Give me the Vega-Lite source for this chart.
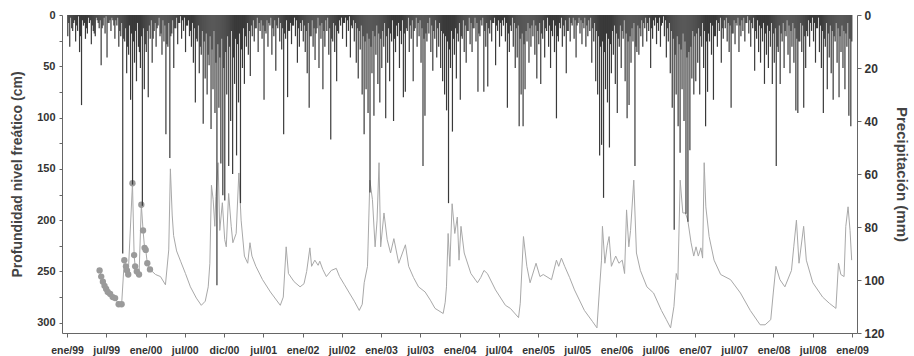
{
  "$schema": "https://vega.github.io/schema/vega-lite/v6.json",
  "width": 795,
  "height": 318,
  "autosize": {"type": "none"},
  "padding": {"left": 62, "top": 15, "right": 57, "bottom": 23},
  "background": "white",
  "config": {
    "font": "Liberation Sans",
    "view": {"stroke": null},
    "axis": {"grid": false, "labelFontWeight": "bold", "titleFontWeight": "bold", "labelColor": "#333", "titleColor": "#444", "domainColor": "#666", "tickColor": "#666"},
    "axisX": {"labelOverlap": false, "labelBound": false, "labelFlush": false}
  },
  "datasets": {
    "lluvia": [
{"t":1999.01,"p":8},{"t":1999.035,"p":12},{"t":1999.06,"p":5},{"t":1999.085,"p":3},{"t":1999.11,"p":10},{"t":1999.135,"p":6},{"t":1999.16,"p":14},{"t":1999.185,"p":34},{"t":1999.21,"p":4},{"t":1999.235,"p":9},{"t":1999.26,"p":7},{"t":1999.285,"p":3},{"t":1999.31,"p":11},{"t":1999.335,"p":6},{"t":1999.36,"p":8},{"t":1999.385,"p":2},{"t":1999.41,"p":5},{"t":1999.435,"p":19},{"t":1999.46,"p":4},{"t":1999.485,"p":7},{"t":1999.51,"p":16},{"t":1999.535,"p":3},{"t":1999.56,"p":6},{"t":1999.585,"p":2},{"t":1999.61,"p":9},{"t":1999.635,"p":4},{"t":1999.66,"p":12},{"t":1999.685,"p":8},{"t":1999.71,"p":90},{"t":1999.735,"p":10},{"t":1999.76,"p":22},{"t":1999.785,"p":15},{"t":1999.81,"p":32},{"t":1999.835,"p":64},{"t":1999.86,"p":18},{"t":1999.885,"p":25},{"t":1999.91,"p":12},{"t":1999.935,"p":20},{"t":1999.96,"p":72},{"t":1999.985,"p":28},
{"t":2000.01,"p":14},{"t":2000.035,"p":31},{"t":2000.06,"p":9},{"t":2000.085,"p":18},{"t":2000.11,"p":6},{"t":2000.135,"p":12},{"t":2000.16,"p":4},{"t":2000.185,"p":8},{"t":2000.21,"p":15},{"t":2000.235,"p":10},{"t":2000.26,"p":45},{"t":2000.285,"p":12},{"t":2000.31,"p":54},{"t":2000.335,"p":7},{"t":2000.36,"p":20},{"t":2000.385,"p":5},{"t":2000.41,"p":11},{"t":2000.435,"p":3},{"t":2000.46,"p":9},{"t":2000.485,"p":6},{"t":2000.51,"p":14},{"t":2000.535,"p":4},{"t":2000.56,"p":8},{"t":2000.585,"p":12},{"t":2000.61,"p":18},{"t":2000.635,"p":33},{"t":2000.66,"p":10},{"t":2000.685,"p":22},{"t":2000.71,"p":15},{"t":2000.735,"p":41},{"t":2000.76,"p":24},{"t":2000.785,"p":30},{"t":2000.81,"p":19},{"t":2000.835,"p":43},{"t":2000.86,"p":28},{"t":2000.885,"p":37},{"t":2000.91,"p":102},{"t":2000.935,"p":35},{"t":2000.96,"p":56},{"t":2000.985,"p":68},
{"t":2001.01,"p":70},{"t":2001.035,"p":30},{"t":2001.06,"p":57},{"t":2001.085,"p":40},{"t":2001.11,"p":60},{"t":2001.135,"p":26},{"t":2001.16,"p":53},{"t":2001.185,"p":33},{"t":2001.21,"p":71},{"t":2001.235,"p":20},{"t":2001.26,"p":26},{"t":2001.285,"p":12},{"t":2001.31,"p":15},{"t":2001.335,"p":23},{"t":2001.36,"p":8},{"t":2001.385,"p":10},{"t":2001.41,"p":5},{"t":2001.435,"p":14},{"t":2001.46,"p":6},{"t":2001.485,"p":9},{"t":2001.51,"p":32},{"t":2001.535,"p":7},{"t":2001.56,"p":12},{"t":2001.585,"p":4},{"t":2001.61,"p":15},{"t":2001.635,"p":8},{"t":2001.66,"p":21},{"t":2001.685,"p":5},{"t":2001.71,"p":10},{"t":2001.735,"p":13},{"t":2001.76,"p":45},{"t":2001.785,"p":9},{"t":2001.81,"p":31},{"t":2001.835,"p":6},{"t":2001.86,"p":11},{"t":2001.885,"p":4},{"t":2001.91,"p":8},{"t":2001.935,"p":18},{"t":2001.96,"p":12},{"t":2001.985,"p":6},
{"t":2002.01,"p":10},{"t":2002.035,"p":14},{"t":2002.06,"p":22},{"t":2002.085,"p":35},{"t":2002.11,"p":8},{"t":2002.135,"p":12},{"t":2002.16,"p":17},{"t":2002.185,"p":5},{"t":2002.21,"p":20},{"t":2002.235,"p":9},{"t":2002.26,"p":28},{"t":2002.285,"p":12},{"t":2002.31,"p":6},{"t":2002.335,"p":15},{"t":2002.36,"p":47},{"t":2002.385,"p":10},{"t":2002.41,"p":14},{"t":2002.435,"p":25},{"t":2002.46,"p":7},{"t":2002.485,"p":4},{"t":2002.51,"p":9},{"t":2002.535,"p":3},{"t":2002.56,"p":12},{"t":2002.585,"p":6},{"t":2002.61,"p":16},{"t":2002.635,"p":5},{"t":2002.66,"p":10},{"t":2002.685,"p":18},{"t":2002.71,"p":24},{"t":2002.735,"p":13},{"t":2002.76,"p":30},{"t":2002.785,"p":45},{"t":2002.81,"p":28},{"t":2002.835,"p":37},{"t":2002.86,"p":67},{"t":2002.885,"p":22},{"t":2002.91,"p":38},{"t":2002.935,"p":15},{"t":2002.96,"p":26},{"t":2002.985,"p":33},
{"t":2003.01,"p":20},{"t":2003.035,"p":12},{"t":2003.06,"p":39},{"t":2003.085,"p":18},{"t":2003.11,"p":25},{"t":2003.135,"p":10},{"t":2003.16,"p":40},{"t":2003.185,"p":14},{"t":2003.21,"p":8},{"t":2003.235,"p":20},{"t":2003.26,"p":11},{"t":2003.285,"p":31},{"t":2003.31,"p":29},{"t":2003.335,"p":6},{"t":2003.36,"p":14},{"t":2003.385,"p":9},{"t":2003.41,"p":25},{"t":2003.435,"p":5},{"t":2003.46,"p":12},{"t":2003.485,"p":8},{"t":2003.51,"p":18},{"t":2003.535,"p":57},{"t":2003.56,"p":38},{"t":2003.585,"p":10},{"t":2003.61,"p":7},{"t":2003.635,"p":14},{"t":2003.66,"p":21},{"t":2003.685,"p":9},{"t":2003.71,"p":16},{"t":2003.735,"p":12},{"t":2003.76,"p":20},{"t":2003.785,"p":25},{"t":2003.81,"p":30},{"t":2003.835,"p":36},{"t":2003.86,"p":71},{"t":2003.885,"p":20},{"t":2003.91,"p":44},{"t":2003.935,"p":15},{"t":2003.96,"p":24},{"t":2003.985,"p":10},
{"t":2004.01,"p":32},{"t":2004.035,"p":9},{"t":2004.06,"p":14},{"t":2004.085,"p":18},{"t":2004.11,"p":6},{"t":2004.135,"p":11},{"t":2004.16,"p":14},{"t":2004.185,"p":5},{"t":2004.21,"p":10},{"t":2004.235,"p":29},{"t":2004.26,"p":8},{"t":2004.285,"p":4},{"t":2004.31,"p":29},{"t":2004.335,"p":12},{"t":2004.36,"p":27},{"t":2004.385,"p":7},{"t":2004.41,"p":10},{"t":2004.435,"p":3},{"t":2004.46,"p":19},{"t":2004.485,"p":6},{"t":2004.51,"p":12},{"t":2004.535,"p":8},{"t":2004.56,"p":4},{"t":2004.585,"p":10},{"t":2004.61,"p":35},{"t":2004.635,"p":14},{"t":2004.66,"p":6},{"t":2004.685,"p":12},{"t":2004.71,"p":20},{"t":2004.735,"p":16},{"t":2004.76,"p":42},{"t":2004.785,"p":30},{"t":2004.81,"p":42},{"t":2004.835,"p":28},{"t":2004.86,"p":10},{"t":2004.885,"p":18},{"t":2004.91,"p":12},{"t":2004.935,"p":8},{"t":2004.96,"p":15},{"t":2004.985,"p":24},
{"t":2005.01,"p":11},{"t":2005.035,"p":26},{"t":2005.06,"p":9},{"t":2005.085,"p":16},{"t":2005.11,"p":6},{"t":2005.135,"p":12},{"t":2005.16,"p":20},{"t":2005.185,"p":8},{"t":2005.21,"p":14},{"t":2005.235,"p":39},{"t":2005.26,"p":10},{"t":2005.285,"p":5},{"t":2005.31,"p":12},{"t":2005.335,"p":8},{"t":2005.36,"p":22},{"t":2005.385,"p":6},{"t":2005.41,"p":10},{"t":2005.435,"p":4},{"t":2005.46,"p":9},{"t":2005.485,"p":16},{"t":2005.51,"p":3},{"t":2005.535,"p":7},{"t":2005.56,"p":11},{"t":2005.585,"p":5},{"t":2005.61,"p":12},{"t":2005.635,"p":8},{"t":2005.66,"p":6},{"t":2005.685,"p":18},{"t":2005.71,"p":10},{"t":2005.735,"p":25},{"t":2005.76,"p":30},{"t":2005.785,"p":53},{"t":2005.81,"p":49},{"t":2005.835,"p":69},{"t":2005.86,"p":28},{"t":2005.885,"p":33},{"t":2005.91,"p":50},{"t":2005.935,"p":22},{"t":2005.96,"p":15},{"t":2005.985,"p":26},
{"t":2006.01,"p":37},{"t":2006.035,"p":12},{"t":2006.06,"p":20},{"t":2006.085,"p":9},{"t":2006.11,"p":25},{"t":2006.135,"p":39},{"t":2006.16,"p":34},{"t":2006.185,"p":18},{"t":2006.21,"p":10},{"t":2006.235,"p":57},{"t":2006.26,"p":14},{"t":2006.285,"p":15},{"t":2006.31,"p":8},{"t":2006.335,"p":12},{"t":2006.36,"p":5},{"t":2006.385,"p":10},{"t":2006.41,"p":6},{"t":2006.435,"p":20},{"t":2006.46,"p":9},{"t":2006.485,"p":4},{"t":2006.51,"p":11},{"t":2006.535,"p":6},{"t":2006.56,"p":12},{"t":2006.585,"p":3},{"t":2006.61,"p":8},{"t":2006.635,"p":16},{"t":2006.66,"p":10},{"t":2006.685,"p":22},{"t":2006.71,"p":35},{"t":2006.735,"p":81},{"t":2006.76,"p":30},{"t":2006.785,"p":42},{"t":2006.81,"p":52},{"t":2006.835,"p":28},{"t":2006.86,"p":40},{"t":2006.885,"p":75},{"t":2006.91,"p":78},{"t":2006.935,"p":51},{"t":2006.96,"p":24},{"t":2006.985,"p":30},
{"t":2007.01,"p":25},{"t":2007.035,"p":18},{"t":2007.06,"p":30},{"t":2007.085,"p":12},{"t":2007.11,"p":20},{"t":2007.135,"p":42},{"t":2007.16,"p":29},{"t":2007.185,"p":10},{"t":2007.21,"p":15},{"t":2007.235,"p":32},{"t":2007.26,"p":8},{"t":2007.285,"p":12},{"t":2007.31,"p":6},{"t":2007.335,"p":18},{"t":2007.36,"p":9},{"t":2007.385,"p":5},{"t":2007.41,"p":10},{"t":2007.435,"p":14},{"t":2007.46,"p":35},{"t":2007.485,"p":7},{"t":2007.51,"p":11},{"t":2007.535,"p":4},{"t":2007.56,"p":14},{"t":2007.585,"p":8},{"t":2007.61,"p":6},{"t":2007.635,"p":10},{"t":2007.66,"p":3},{"t":2007.685,"p":7},{"t":2007.71,"p":12},{"t":2007.735,"p":5},{"t":2007.76,"p":21},{"t":2007.785,"p":9},{"t":2007.81,"p":14},{"t":2007.835,"p":18},{"t":2007.86,"p":10},{"t":2007.885,"p":26},{"t":2007.91,"p":15},{"t":2007.935,"p":20},{"t":2007.96,"p":12},{"t":2007.985,"p":26},
{"t":2008.01,"p":18},{"t":2008.035,"p":57},{"t":2008.06,"p":14},{"t":2008.085,"p":26},{"t":2008.11,"p":10},{"t":2008.135,"p":20},{"t":2008.16,"p":8},{"t":2008.185,"p":15},{"t":2008.21,"p":22},{"t":2008.235,"p":12},{"t":2008.26,"p":18},{"t":2008.285,"p":36},{"t":2008.31,"p":37},{"t":2008.335,"p":10},{"t":2008.36,"p":14},{"t":2008.385,"p":35},{"t":2008.41,"p":20},{"t":2008.435,"p":8},{"t":2008.46,"p":12},{"t":2008.485,"p":6},{"t":2008.51,"p":10},{"t":2008.535,"p":18},{"t":2008.56,"p":5},{"t":2008.585,"p":14},{"t":2008.61,"p":20},{"t":2008.635,"p":37},{"t":2008.66,"p":12},{"t":2008.685,"p":28},{"t":2008.71,"p":16},{"t":2008.735,"p":22},{"t":2008.76,"p":32},{"t":2008.785,"p":10},{"t":2008.81,"p":18},{"t":2008.835,"p":31},{"t":2008.86,"p":14},{"t":2008.885,"p":20},{"t":2008.91,"p":28},{"t":2008.935,"p":12},{"t":2008.96,"p":38},{"t":2008.985,"p":42},
{"t":1999.0225,"p":3},{"t":1999.0475,"p":1},{"t":1999.0725,"p":6},{"t":1999.0975,"p":2},{"t":1999.1225,"p":4},{"t":1999.1475,"p":0.5},{"t":1999.1725,"p":8},{"t":1999.1975,"p":2},{"t":1999.2225,"p":3},{"t":1999.2475,"p":5},{"t":1999.2725,"p":1},{"t":1999.2975,"p":2},{"t":1999.3225,"p":4},{"t":1999.3475,"p":7},{"t":1999.3725,"p":1},{"t":1999.3975,"p":3},{"t":1999.4225,"p":2},{"t":1999.4475,"p":5},{"t":1999.4725,"p":1},{"t":1999.4975,"p":0.5},{"t":1999.5225,"p":3},{"t":1999.5475,"p":2},{"t":1999.5725,"p":1},{"t":1999.5975,"p":4},{"t":1999.6225,"p":2},{"t":1999.6475,"p":1},{"t":1999.6725,"p":6},{"t":1999.6975,"p":3},{"t":1999.7225,"p":9},{"t":1999.7475,"p":5},{"t":1999.7725,"p":12},{"t":1999.7975,"p":4},{"t":1999.8225,"p":7},{"t":1999.8475,"p":10},{"t":1999.8725,"p":6},{"t":1999.8975,"p":3},{"t":1999.9225,"p":14},{"t":1999.9475,"p":8},{"t":1999.9725,"p":5},{"t":1999.9975,"p":11},
{"t":2000.0225,"p":6},{"t":2000.0475,"p":4},{"t":2000.0725,"p":2},{"t":2000.0975,"p":9},{"t":2000.1225,"p":3},{"t":2000.1475,"p":5},{"t":2000.1725,"p":1},{"t":2000.1975,"p":7},{"t":2000.2225,"p":2},{"t":2000.2475,"p":4},{"t":2000.2725,"p":11},{"t":2000.2975,"p":3},{"t":2000.3225,"p":8},{"t":2000.3475,"p":2},{"t":2000.3725,"p":5},{"t":2000.3975,"p":1},{"t":2000.4225,"p":3},{"t":2000.4475,"p":0.5},{"t":2000.4725,"p":2},{"t":2000.4975,"p":1},{"t":2000.5225,"p":4},{"t":2000.5475,"p":2},{"t":2000.5725,"p":6},{"t":2000.5975,"p":3},{"t":2000.6225,"p":5},{"t":2000.6475,"p":9},{"t":2000.6725,"p":4},{"t":2000.6975,"p":12},{"t":2000.7225,"p":6},{"t":2000.7475,"p":10},{"t":2000.7725,"p":7},{"t":2000.7975,"p":15},{"t":2000.8225,"p":8},{"t":2000.8475,"p":13},{"t":2000.8725,"p":6},{"t":2000.8975,"p":18},{"t":2000.9225,"p":11},{"t":2000.9475,"p":16},{"t":2000.9725,"p":9},{"t":2000.9975,"p":20},
{"t":2001.0225,"p":14},{"t":2001.0475,"p":8},{"t":2001.0725,"p":12},{"t":2001.0975,"p":6},{"t":2001.1225,"p":16},{"t":2001.1475,"p":9},{"t":2001.1725,"p":11},{"t":2001.1975,"p":7},{"t":2001.2225,"p":13},{"t":2001.2475,"p":5},{"t":2001.2725,"p":8},{"t":2001.2975,"p":3},{"t":2001.3225,"p":6},{"t":2001.3475,"p":4},{"t":2001.3725,"p":2},{"t":2001.3975,"p":5},{"t":2001.4225,"p":1},{"t":2001.4475,"p":3},{"t":2001.4725,"p":2},{"t":2001.4975,"p":4},{"t":2001.5225,"p":6},{"t":2001.5475,"p":2},{"t":2001.5725,"p":3},{"t":2001.5975,"p":1},{"t":2001.6225,"p":5},{"t":2001.6475,"p":2},{"t":2001.6725,"p":4},{"t":2001.6975,"p":1},{"t":2001.7225,"p":3},{"t":2001.7475,"p":5},{"t":2001.7725,"p":7},{"t":2001.7975,"p":2},{"t":2001.8225,"p":6},{"t":2001.8475,"p":3},{"t":2001.8725,"p":4},{"t":2001.8975,"p":1},{"t":2001.9225,"p":2},{"t":2001.9475,"p":5},{"t":2001.9725,"p":3},{"t":2001.9975,"p":2},
{"t":2002.0225,"p":4},{"t":2002.0475,"p":6},{"t":2002.0725,"p":3},{"t":2002.0975,"p":8},{"t":2002.1225,"p":2},{"t":2002.1475,"p":5},{"t":2002.1725,"p":7},{"t":2002.1975,"p":1},{"t":2002.2225,"p":4},{"t":2002.2475,"p":3},{"t":2002.2725,"p":6},{"t":2002.2975,"p":2},{"t":2002.3225,"p":1},{"t":2002.3475,"p":5},{"t":2002.3725,"p":9},{"t":2002.3975,"p":3},{"t":2002.4225,"p":4},{"t":2002.4475,"p":6},{"t":2002.4725,"p":2},{"t":2002.4975,"p":1},{"t":2002.5225,"p":3},{"t":2002.5475,"p":1},{"t":2002.5725,"p":2},{"t":2002.5975,"p":0.5},{"t":2002.6225,"p":4},{"t":2002.6475,"p":2},{"t":2002.6725,"p":3},{"t":2002.6975,"p":5},{"t":2002.7225,"p":6},{"t":2002.7475,"p":4},{"t":2002.7725,"p":8},{"t":2002.7975,"p":10},{"t":2002.8225,"p":7},{"t":2002.8475,"p":9},{"t":2002.8725,"p":12},{"t":2002.8975,"p":6},{"t":2002.9225,"p":8},{"t":2002.9475,"p":4},{"t":2002.9725,"p":7},{"t":2002.9975,"p":9},
{"t":2003.0225,"p":6},{"t":2003.0475,"p":3},{"t":2003.0725,"p":8},{"t":2003.0975,"p":5},{"t":2003.1225,"p":7},{"t":2003.1475,"p":2},{"t":2003.1725,"p":9},{"t":2003.1975,"p":4},{"t":2003.2225,"p":3},{"t":2003.2475,"p":6},{"t":2003.2725,"p":2},{"t":2003.2975,"p":7},{"t":2003.3225,"p":5},{"t":2003.3475,"p":1},{"t":2003.3725,"p":4},{"t":2003.3975,"p":2},{"t":2003.4225,"p":6},{"t":2003.4475,"p":1},{"t":2003.4725,"p":3},{"t":2003.4975,"p":2},{"t":2003.5225,"p":5},{"t":2003.5475,"p":9},{"t":2003.5725,"p":7},{"t":2003.5975,"p":3},{"t":2003.6225,"p":1},{"t":2003.6475,"p":4},{"t":2003.6725,"p":6},{"t":2003.6975,"p":2},{"t":2003.7225,"p":5},{"t":2003.7475,"p":3},{"t":2003.7725,"p":6},{"t":2003.7975,"p":7},{"t":2003.8225,"p":8},{"t":2003.8475,"p":10},{"t":2003.8725,"p":13},{"t":2003.8975,"p":6},{"t":2003.9225,"p":9},{"t":2003.9475,"p":5},{"t":2003.9725,"p":7},{"t":2003.9975,"p":3},
{"t":2004.0225,"p":8},{"t":2004.0475,"p":2},{"t":2004.0725,"p":4},{"t":2004.0975,"p":6},{"t":2004.1225,"p":1},{"t":2004.1475,"p":3},{"t":2004.1725,"p":5},{"t":2004.1975,"p":1},{"t":2004.2225,"p":3},{"t":2004.2475,"p":7},{"t":2004.2725,"p":2},{"t":2004.2975,"p":1},{"t":2004.3225,"p":6},{"t":2004.3475,"p":3},{"t":2004.3725,"p":5},{"t":2004.3975,"p":2},{"t":2004.4225,"p":3},{"t":2004.4475,"p":1},{"t":2004.4725,"p":4},{"t":2004.4975,"p":2},{"t":2004.5225,"p":3},{"t":2004.5475,"p":2},{"t":2004.5725,"p":1},{"t":2004.5975,"p":3},{"t":2004.6225,"p":7},{"t":2004.6475,"p":4},{"t":2004.6725,"p":1},{"t":2004.6975,"p":3},{"t":2004.7225,"p":5},{"t":2004.7475,"p":4},{"t":2004.7725,"p":9},{"t":2004.7975,"p":7},{"t":2004.8225,"p":11},{"t":2004.8475,"p":6},{"t":2004.8725,"p":3},{"t":2004.8975,"p":5},{"t":2004.9225,"p":4},{"t":2004.9475,"p":2},{"t":2004.9725,"p":4},{"t":2004.9975,"p":6},
{"t":2005.0225,"p":3},{"t":2005.0475,"p":7},{"t":2005.0725,"p":2},{"t":2005.0975,"p":5},{"t":2005.1225,"p":1},{"t":2005.1475,"p":4},{"t":2005.1725,"p":6},{"t":2005.1975,"p":2},{"t":2005.2225,"p":4},{"t":2005.2475,"p":8},{"t":2005.2725,"p":3},{"t":2005.2975,"p":1},{"t":2005.3225,"p":4},{"t":2005.3475,"p":2},{"t":2005.3725,"p":6},{"t":2005.3975,"p":1},{"t":2005.4225,"p":3},{"t":2005.4475,"p":1},{"t":2005.4725,"p":2},{"t":2005.4975,"p":4},{"t":2005.5225,"p":1},{"t":2005.5475,"p":2},{"t":2005.5725,"p":3},{"t":2005.5975,"p":1},{"t":2005.6225,"p":4},{"t":2005.6475,"p":2},{"t":2005.6725,"p":1},{"t":2005.6975,"p":5},{"t":2005.7225,"p":3},{"t":2005.7475,"p":6},{"t":2005.7725,"p":8},{"t":2005.7975,"p":12},{"t":2005.8225,"p":10},{"t":2005.8475,"p":14},{"t":2005.8725,"p":7},{"t":2005.8975,"p":9},{"t":2005.9225,"p":11},{"t":2005.9475,"p":6},{"t":2005.9725,"p":4},{"t":2005.9975,"p":7},
{"t":2006.0225,"p":9},{"t":2006.0475,"p":4},{"t":2006.0725,"p":6},{"t":2006.0975,"p":2},{"t":2006.1225,"p":7},{"t":2006.1475,"p":10},{"t":2006.1725,"p":8},{"t":2006.1975,"p":5},{"t":2006.2225,"p":3},{"t":2006.2475,"p":12},{"t":2006.2725,"p":4},{"t":2006.2975,"p":5},{"t":2006.3225,"p":2},{"t":2006.3475,"p":3},{"t":2006.3725,"p":1},{"t":2006.3975,"p":3},{"t":2006.4225,"p":1},{"t":2006.4475,"p":5},{"t":2006.4725,"p":2},{"t":2006.4975,"p":1},{"t":2006.5225,"p":3},{"t":2006.5475,"p":1},{"t":2006.5725,"p":4},{"t":2006.5975,"p":0.5},{"t":2006.6225,"p":2},{"t":2006.6475,"p":5},{"t":2006.6725,"p":3},{"t":2006.6975,"p":6},{"t":2006.7225,"p":9},{"t":2006.7475,"p":15},{"t":2006.7725,"p":8},{"t":2006.7975,"p":11},{"t":2006.8225,"p":13},{"t":2006.8475,"p":7},{"t":2006.8725,"p":10},{"t":2006.8975,"p":16},{"t":2006.9225,"p":14},{"t":2006.9475,"p":12},{"t":2006.9725,"p":6},{"t":2006.9975,"p":8},
{"t":2007.0225,"p":7},{"t":2007.0475,"p":5},{"t":2007.0725,"p":8},{"t":2007.0975,"p":3},{"t":2007.1225,"p":6},{"t":2007.1475,"p":10},{"t":2007.1725,"p":7},{"t":2007.1975,"p":3},{"t":2007.2225,"p":4},{"t":2007.2475,"p":8},{"t":2007.2725,"p":2},{"t":2007.2975,"p":3},{"t":2007.3225,"p":1},{"t":2007.3475,"p":5},{"t":2007.3725,"p":2},{"t":2007.3975,"p":1},{"t":2007.4225,"p":3},{"t":2007.4475,"p":4},{"t":2007.4725,"p":7},{"t":2007.4975,"p":2},{"t":2007.5225,"p":3},{"t":2007.5475,"p":1},{"t":2007.5725,"p":4},{"t":2007.5975,"p":2},{"t":2007.6225,"p":1},{"t":2007.6475,"p":3},{"t":2007.6725,"p":0.5},{"t":2007.6975,"p":2},{"t":2007.7225,"p":3},{"t":2007.7475,"p":1},{"t":2007.7725,"p":6},{"t":2007.7975,"p":2},{"t":2007.8225,"p":4},{"t":2007.8475,"p":5},{"t":2007.8725,"p":3},{"t":2007.8975,"p":7},{"t":2007.9225,"p":4},{"t":2007.9475,"p":6},{"t":2007.9725,"p":3},{"t":2007.9975,"p":7},
{"t":2008.0225,"p":5},{"t":2008.0475,"p":12},{"t":2008.0725,"p":4},{"t":2008.0975,"p":7},{"t":2008.1225,"p":3},{"t":2008.1475,"p":6},{"t":2008.1725,"p":2},{"t":2008.1975,"p":4},{"t":2008.2225,"p":6},{"t":2008.2475,"p":3},{"t":2008.2725,"p":5},{"t":2008.2975,"p":9},{"t":2008.3225,"p":10},{"t":2008.3475,"p":3},{"t":2008.3725,"p":4},{"t":2008.3975,"p":8},{"t":2008.4225,"p":6},{"t":2008.4475,"p":2},{"t":2008.4725,"p":3},{"t":2008.4975,"p":1},{"t":2008.5225,"p":3},{"t":2008.5475,"p":5},{"t":2008.5725,"p":1},{"t":2008.5975,"p":4},{"t":2008.6225,"p":6},{"t":2008.6475,"p":9},{"t":2008.6725,"p":3},{"t":2008.6975,"p":7},{"t":2008.7225,"p":4},{"t":2008.7475,"p":6},{"t":2008.7725,"p":8},{"t":2008.7975,"p":3},{"t":2008.8225,"p":5},{"t":2008.8475,"p":8},{"t":2008.8725,"p":4},{"t":2008.8975,"p":6},{"t":2008.9225,"p":7},{"t":2008.9475,"p":3},{"t":2008.9725,"p":9},{"t":2008.9975,"p":10}
    ],
    "nivel": [
{"t":1999.415,"n":249},{"t":1999.436,"n":255},{"t":1999.457,"n":260},{"t":1999.478,"n":264},{"t":1999.499,"n":267},{"t":1999.519,"n":270},{"t":1999.55,"n":272},{"t":1999.582,"n":275},{"t":1999.613,"n":276},{"t":1999.658,"n":282},{"t":1999.696,"n":282},{"t":1999.73,"n":239},{"t":1999.751,"n":245},{"t":1999.764,"n":249},{"t":1999.78,"n":253},{"t":1999.834,"n":164},{"t":1999.855,"n":234},{"t":1999.868,"n":245},{"t":1999.889,"n":250},{"t":1999.918,"n":253},{"t":1999.947,"n":185},{"t":1999.969,"n":210},{"t":1999.988,"n":227},{"t":2000.003,"n":229},{"t":2000.023,"n":242},{"t":2000.057,"n":248},
{"t":2000.128,"n":253},{"t":2000.191,"n":255},{"t":2000.254,"n":263},{"t":2000.296,"n":229},{"t":2000.317,"n":150},{"t":2000.34,"n":195},{"t":2000.358,"n":215},{"t":2000.396,"n":230},{"t":2000.447,"n":240},{"t":2000.509,"n":252},{"t":2000.572,"n":265},{"t":2000.648,"n":276},{"t":2000.711,"n":283},{"t":2000.761,"n":279},{"t":2000.799,"n":265},{"t":2000.82,"n":242},{"t":2000.84,"n":166},{"t":2000.862,"n":180},{"t":2000.883,"n":206},{"t":2000.896,"n":177},{"t":2000.925,"n":144},{"t":2000.946,"n":210},{"t":2000.979,"n":183},
{"t":2001.009,"n":219},{"t":2001.029,"n":226},{"t":2001.059,"n":174},{"t":2001.092,"n":206},{"t":2001.113,"n":222},{"t":2001.155,"n":213},{"t":2001.189,"n":154},{"t":2001.218,"n":200},{"t":2001.26,"n":235},{"t":2001.302,"n":242},{"t":2001.331,"n":222},{"t":2001.356,"n":235},{"t":2001.406,"n":245},{"t":2001.491,"n":258},{"t":2001.591,"n":270},{"t":2001.717,"n":283},{"t":2001.755,"n":275},{"t":2001.792,"n":226},{"t":2001.821,"n":252},{"t":2001.893,"n":260},{"t":2001.969,"n":265},
{"t":2002.019,"n":262},{"t":2002.053,"n":250},{"t":2002.094,"n":227},{"t":2002.116,"n":245},{"t":2002.157,"n":239},{"t":2002.199,"n":244},{"t":2002.22,"n":240},{"t":2002.258,"n":248},{"t":2002.304,"n":255},{"t":2002.367,"n":249},{"t":2002.43,"n":247},{"t":2002.472,"n":255},{"t":2002.535,"n":263},{"t":2002.597,"n":271},{"t":2002.66,"n":279},{"t":2002.723,"n":288},{"t":2002.761,"n":282},{"t":2002.786,"n":261},{"t":2002.828,"n":245},{"t":2002.858,"n":161},{"t":2002.891,"n":180},{"t":2002.925,"n":226},{"t":2002.95,"n":200},{"t":2002.975,"n":144},{"t":2002.996,"n":226},
{"t":2003.038,"n":193},{"t":2003.079,"n":219},{"t":2003.122,"n":232},{"t":2003.164,"n":218},{"t":2003.226,"n":242},{"t":2003.311,"n":224},{"t":2003.352,"n":245},{"t":2003.415,"n":256},{"t":2003.478,"n":265},{"t":2003.562,"n":270},{"t":2003.629,"n":278},{"t":2003.688,"n":286},{"t":2003.792,"n":291},{"t":2003.818,"n":280},{"t":2003.834,"n":265},{"t":2003.855,"n":213},{"t":2003.877,"n":245},{"t":2003.906,"n":184},{"t":2003.94,"n":213},{"t":2003.972,"n":197},{"t":2003.994,"n":239},
{"t":2004.019,"n":206},{"t":2004.06,"n":232},{"t":2004.145,"n":252},{"t":2004.229,"n":261},{"t":2004.27,"n":256},{"t":2004.312,"n":249},{"t":2004.355,"n":252},{"t":2004.459,"n":268},{"t":2004.585,"n":283},{"t":2004.648,"n":286},{"t":2004.752,"n":295},{"t":2004.774,"n":281},{"t":2004.815,"n":216},{"t":2004.858,"n":245},{"t":2004.899,"n":261},{"t":2004.975,"n":242},
{"t":2005.025,"n":255},{"t":2005.067,"n":253},{"t":2005.172,"n":258},{"t":2005.235,"n":239},{"t":2005.264,"n":245},{"t":2005.298,"n":237},{"t":2005.34,"n":245},{"t":2005.403,"n":256},{"t":2005.465,"n":268},{"t":2005.591,"n":288},{"t":2005.696,"n":299},{"t":2005.751,"n":305},{"t":2005.78,"n":271},{"t":2005.809,"n":239},{"t":2005.821,"n":206},{"t":2005.852,"n":242},{"t":2005.881,"n":225},{"t":2005.906,"n":216},{"t":2005.935,"n":245},{"t":2005.99,"n":235},
{"t":2006.031,"n":242},{"t":2006.073,"n":239},{"t":2006.103,"n":252},{"t":2006.128,"n":190},{"t":2006.157,"n":226},{"t":2006.179,"n":210},{"t":2006.22,"n":161},{"t":2006.254,"n":232},{"t":2006.304,"n":249},{"t":2006.387,"n":265},{"t":2006.472,"n":271},{"t":2006.572,"n":288},{"t":2006.635,"n":297},{"t":2006.689,"n":305},{"t":2006.732,"n":284},{"t":2006.761,"n":252},{"t":2006.782,"n":258},{"t":2006.811,"n":161},{"t":2006.845,"n":193},{"t":2006.878,"n":193},{"t":2006.908,"n":200},{"t":2006.95,"n":222},{"t":2006.984,"n":235},
{"t":2007.013,"n":226},{"t":2007.042,"n":235},{"t":2007.075,"n":227},{"t":2007.097,"n":237},{"t":2007.117,"n":144},{"t":2007.138,"n":187},{"t":2007.18,"n":216},{"t":2007.243,"n":239},{"t":2007.327,"n":253},{"t":2007.453,"n":258},{"t":2007.579,"n":271},{"t":2007.704,"n":288},{"t":2007.83,"n":302},{"t":2007.893,"n":302},{"t":2007.965,"n":297},{"t":2007.997,"n":271},
{"t":2008.031,"n":245},{"t":2008.082,"n":258},{"t":2008.145,"n":265},{"t":2008.229,"n":249},{"t":2008.258,"n":226},{"t":2008.292,"n":200},{"t":2008.325,"n":242},{"t":2008.384,"n":206},{"t":2008.418,"n":239},{"t":2008.501,"n":261},{"t":2008.626,"n":275},{"t":2008.711,"n":281},{"t":2008.795,"n":286},{"t":2008.828,"n":242},{"t":2008.858,"n":253},{"t":2008.899,"n":255},{"t":2008.921,"n":206},{"t":2008.95,"n":187},{"t":2008.975,"n":210},{"t":2008.996,"n":239}
    ]
  },
  "layer": [
    {
      "data": {"name": "nivel"},
      "layer": [
        {
          "mark": {"type": "line", "color": "#a8a8a8", "strokeWidth": 1},
          "encoding": {
            "x": {"field": "t", "type": "quantitative"},
            "y": {"field": "n", "type": "quantitative"}
          }
        },
        {
          "transform": [{"filter": "datum.t < 2000.06"}],
          "mark": {"type": "circle", "size": 40, "color": "#9a9a9a", "opacity": 1},
          "encoding": {
            "x": {"field": "t", "type": "quantitative"},
            "y": {"field": "n", "type": "quantitative"}
          }
        }
      ],
      "encoding": {
        "x": {
          "field": "t", "type": "quantitative",
          "scale": {"domain": [1999, 2009], "nice": false, "zero": false},
          "axis": {
            "title": null,
            "values": [1999, 1999.5, 2000, 2000.5, 2001, 2001.5, 2002, 2002.5, 2003, 2003.5, 2004, 2004.5, 2005, 2005.5, 2006, 2006.5, 2007, 2007.5, 2008, 2008.5, 2009],
            "labelExpr": "datum.value == 2001 ? 'dic/00' : ((datum.value - floor(datum.value) > 0.25 ? 'jul/' : 'ene/') + slice(toString(floor(datum.value)), 2))",
            "labelOverlap": false, "labelBound": false, "labelFlush": false,
            "labelFontSize": 10.5, "tickSize": 4, "labelPadding": 8, "labelColor": "#333"
          }
        },
        "y": {
          "field": "n", "type": "quantitative",
          "scale": {"domain": [0, 310], "reverse": true, "nice": false, "zero": false},
          "axis": {
            "orient": "left",
            "title": "Profundidad nivel freático (cm)",
            "titleFontSize": 14, "titlePadding": 12,
            "values": [0, 25, 50, 75, 100, 125, 150, 175, 200, 225, 250, 275, 300],
            "labelExpr": "datum.value % 50 == 0 ? datum.label : ''",
            "labelFontSize": 11, "tickSize": 3, "labelPadding": 4
          }
        }
      }
    },
    {
      "data": {"name": "lluvia"},
      "mark": {"type": "bar", "orient": "vertical", "size": 1.2, "color": "#3a3a3a"},
      "encoding": {
        "x": {"field": "t", "type": "quantitative", "axis": {
            "title": null,
            "values": [1999, 1999.5, 2000, 2000.5, 2001, 2001.5, 2002, 2002.5, 2003, 2003.5, 2004, 2004.5, 2005, 2005.5, 2006, 2006.5, 2007, 2007.5, 2008, 2008.5, 2009],
            "labelExpr": "datum.value == 2001 ? 'dic/00' : ((datum.value - floor(datum.value) > 0.25 ? 'jul/' : 'ene/') + slice(toString(floor(datum.value)), 2))",
            "labelOverlap": false, "labelBound": false, "labelFlush": false,
            "labelFontSize": 10.5, "tickSize": 4, "labelPadding": 8, "labelColor": "#333"
          }},
        "y": {
          "field": "p", "type": "quantitative", "stack": null,
          "scale": {"domain": [0, 120], "reverse": true, "nice": false},
          "axis": {
            "orient": "right",
            "title": "Precipitación (mm)",
            "titleFontSize": 15, "titlePadding": 9,
            "values": [0, 20, 40, 60, 80, 100, 120],
            "labelFontSize": 12, "tickSize": 4, "labelPadding": 3
          }
        }
      }
    }
  ],
  "resolve": {"scale": {"y": "independent"}, "axis": {"y": "independent"}}
}
